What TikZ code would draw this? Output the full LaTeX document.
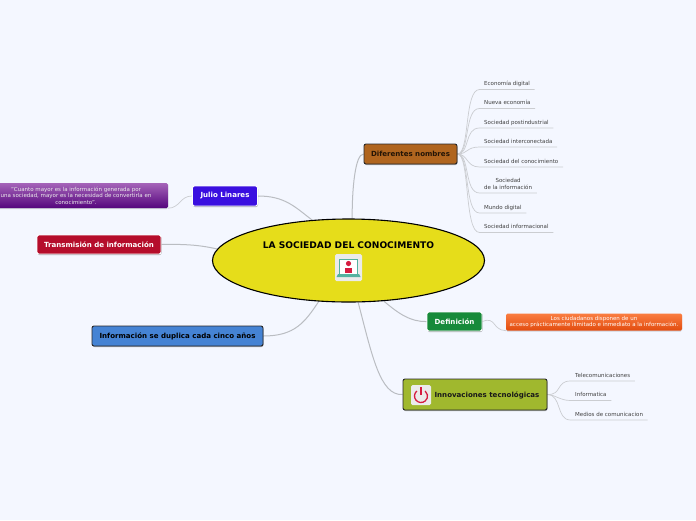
\documentclass[tikz,border=0pt]{standalone}
\usepackage{fontspec}
\setmainfont{DejaVu Sans}
\usepackage{xcolor}
\definecolor{pagebg}{RGB}{244,247,255}
\definecolor{mainyel}{RGB}{230,221,26}
\definecolor{brownbox}{RGB}{176,101,31}
\definecolor{bluebox}{RGB}{58,15,224}
\definecolor{redbox}{RGB}{181,13,43}
\definecolor{skybox}{RGB}{69,131,212}
\definecolor{greenbox}{RGB}{23,138,58}
\definecolor{olivebox}{RGB}{160,184,46}
\definecolor{darkline}{RGB}{40,40,40}
\definecolor{wire}{RGB}{186,189,194}
\definecolor{iconred}{RGB}{214,28,64}
\definecolor{iconteal}{RGB}{84,178,160}
\definecolor{purpletop}{RGB}{165,100,185}
\definecolor{purplelow}{RGB}{85,5,125}
\definecolor{orangetop}{RGB}{250,125,65}
\definecolor{orangelow}{RGB}{226,76,14}
\usepackage{tikz}
\usetikzlibrary{shapes.geometric,shadows,backgrounds}

\begin{document}
\begin{tikzpicture}[x=1pt,y=-1pt,
  topic/.style={rounded corners=2pt,align=center,inner sep=0pt,font=\fontsize{7.05}{8.5}\selectfont\bfseries,
    general shadow={shadow xshift=.5pt,shadow yshift=-1pt,fill=black,opacity=.3}},
  light/.style={topic,draw=white,line width=.9pt,text=white},
  dark/.style={topic,draw=darkline,line width=.9pt},
  note/.style={rounded corners=1.5pt,align=center,inner sep=0pt,text=white,font=\fontsize{5.5}{6.8}\selectfont,
    general shadow={shadow xshift=0pt,shadow yshift=-1pt,fill=black,opacity=.15}},
  leaf/.style={anchor=south west,align=center,inner xsep=4.5pt,inner ysep=2.4pt,text depth=1.3pt,text=black!75,font=\fontsize{5.5}{6.8}\selectfont},
  link/.style={draw=wire,line width=1pt},
  twig/.style={draw=wire!75,line width=.7pt},
  iconbox/.style={fill=white!92!black,rounded corners=1.5pt,inner sep=0pt}
]
  \useasboundingbox (0,0) rectangle (696,520);

  % Central topic
  \node[ellipse,draw=black,line width=1.1pt,fill=mainyel,minimum width=272pt,minimum height=83pt,inner sep=0pt] (main) at (348.5,260.5) {};
  \node[inner sep=0pt,font=\fontsize{9.1}{10}\selectfont\bfseries] (maintxt) at (348.5,245) {LA SOCIEDAD DEL CONOCIMENTO};
  \node[iconbox,minimum width=27pt,minimum height=27pt] (mainicon) at (348.5,267.5) {};
  \fill[white] (339.5,259.5) rectangle (357.5,275);
  \draw[iconteal,line width=.9pt] (339.5,274.5) -- (339.5,259.5) -- (357.5,259.5) -- (357.5,274.5);
  \fill[iconred] (348.5,263.5) circle (2.6pt);
  \fill[iconred] (344.8,267.5) rectangle (352.2,272.5);
  \fill[iconteal] (338,274) -- (359,274) -- (360.5,277) -- (336.5,277) -- cycle;

  % Left side
  \node[light,fill=bluebox,minimum width=65pt,minimum height=20pt] (julio) at (225,196) {Julio Linares};
  \node[note,top color=purpletop,bottom color=purplelow,minimum width=170pt,minimum height=25pt] (quote) at (83,195.5) {};
  \node[inner sep=0pt,align=center,text=white!92!black,font=\fontsize{5.5}{6.6}\selectfont] (quotetxt) at (76,195.8) {"Cuanto mayor es la información generada por\\una sociedad, mayor es la necesidad de convertirla en\\conocimiento".};
  \node[light,fill=redbox,minimum width=124pt,minimum height=19pt] (trans) at (99,244.5) {Transmisión de información};
  \node[dark,fill=skybox,minimum width=171pt,minimum height=20pt] (duplica) at (177.5,336) {Información se duplica cada cinco años};

  % Diferentes nombres
  \node[dark,fill=brownbox,text=black!80!brownbox,minimum width=93pt,minimum height=20pt] (nombres) at (410.5,154) {Diferentes nombres};
  \node[leaf] (n1) at (479.5,89.5) {Economía digital};
  \node[leaf] (n2) at (479.5,108.5) {Nueva economía};
  \node[leaf] (n3) at (479.5,128) {Sociedad postindustrial};
  \node[leaf] (n4) at (479.5,147) {Sociedad interconectada};
  \node[leaf] (n5) at (479.5,167) {Sociedad del conocimiento};
  \node[leaf] (n6) at (479.5,193) {Sociedad\\de la información};
  \node[leaf] (n7) at (479.5,213) {Mundo digital};
  \node[leaf] (n8) at (479.5,232.5) {Sociedad informacional};

  % Definicion
  \node[light,fill=greenbox,minimum width=55pt,minimum height=19pt] (defi) at (454.5,321.5) {Definición};
  \node[note,top color=orangetop,bottom color=orangelow,minimum width=176pt,minimum height=17pt] (acceso) at (594,322) {Los ciudadanos disponen de un\\acceso prácticamente ilimitado e inmediato a la información.};

  % Innovaciones
  \node[dark,fill=olivebox,minimum width=144pt,minimum height=31pt] (innova) at (475,394.5) {};
  \node[inner sep=0pt,font=\fontsize{7.05}{8.5}\selectfont\bfseries,text=black!90] (innovatxt) at (487,395.5) {Innovaciones tecnológicas};
  \node[iconbox,minimum width=20pt,minimum height=20pt] (powericon) at (421,395) {};
  \draw[iconred,line width=1.3pt] (416.82,391.02) arc (130:410:6.5pt);
  \draw[iconred,line width=1.3pt] (421,387) -- (421,395);
  \node[leaf] (t1) at (570.5,381) {Telecomunicaciones};
  \node[leaf] (t2) at (570.5,400.5) {Informatica};
  \node[leaf] (t3) at (570.5,420) {Medios de comunicacion};

  \begin{scope}[on background layer]
    \fill[pagebg] (0,0) rectangle (696,520);
    % Links from the central topic
    \draw[link] (nombres.west) .. controls (355,154) and (352,190) .. (main.85);
    \draw[link] (julio.east) .. controls (285,196) and (295,207) .. (main.132);
    \draw[link] (trans.east) .. controls (185,244) and (200,245) .. (main.175);
    \draw[link] (duplica.east) .. controls (295,336) and (305,322) .. (main.234);
    \draw[link] (defi.west) .. controls (410,322) and (398,313) .. (main.-49);
    \draw[link] (innova.west) .. controls (380,396) and (372,355) .. (main.-77);
    \draw[twig] (julio.west) .. controls (180,196) and (180,208) .. (quote.south east);
    \draw[twig] (defi.east) .. controls (496,316) and (492,330) .. (acceso.south west);
    % Leaves of Diferentes nombres
    \draw[twig] (nombres.east) .. controls (470,154) and (464,89.5) .. (n1.south west) -- (n1.south east);
    \draw[twig] (nombres.east) .. controls (470,154) and (464,108.5) .. (n2.south west) -- (n2.south east);
    \draw[twig] (nombres.east) .. controls (470,154) and (464,128) .. (n3.south west) -- (n3.south east);
    \draw[twig] (nombres.east) .. controls (468,154) and (466,147) .. (n4.south west) -- (n4.south east);
    \draw[twig] (nombres.east) .. controls (468,154) and (466,167) .. (n5.south west) -- (n5.south east);
    \draw[twig] (nombres.east) .. controls (470,154) and (464,193) .. (n6.south west) -- (n6.south east);
    \draw[twig] (nombres.east) .. controls (470,154) and (464,213) .. (n7.south west) -- (n7.south east);
    \draw[twig] (nombres.east) .. controls (470,154) and (464,232.5) .. (n8.south west) -- (n8.south east);
    % Leaves of Innovaciones
    \draw[twig] (innova.east) .. controls (562,395) and (556,381) .. (t1.south west) -- (t1.south east);
    \draw[twig] (innova.east) .. controls (556,395) and (560,400.5) .. (t2.south west) -- (t2.south east);
    \draw[twig] (innova.east) .. controls (562,395) and (556,420) .. (t3.south west) -- (t3.south east);
  \end{scope}
\end{tikzpicture}
\end{document}
